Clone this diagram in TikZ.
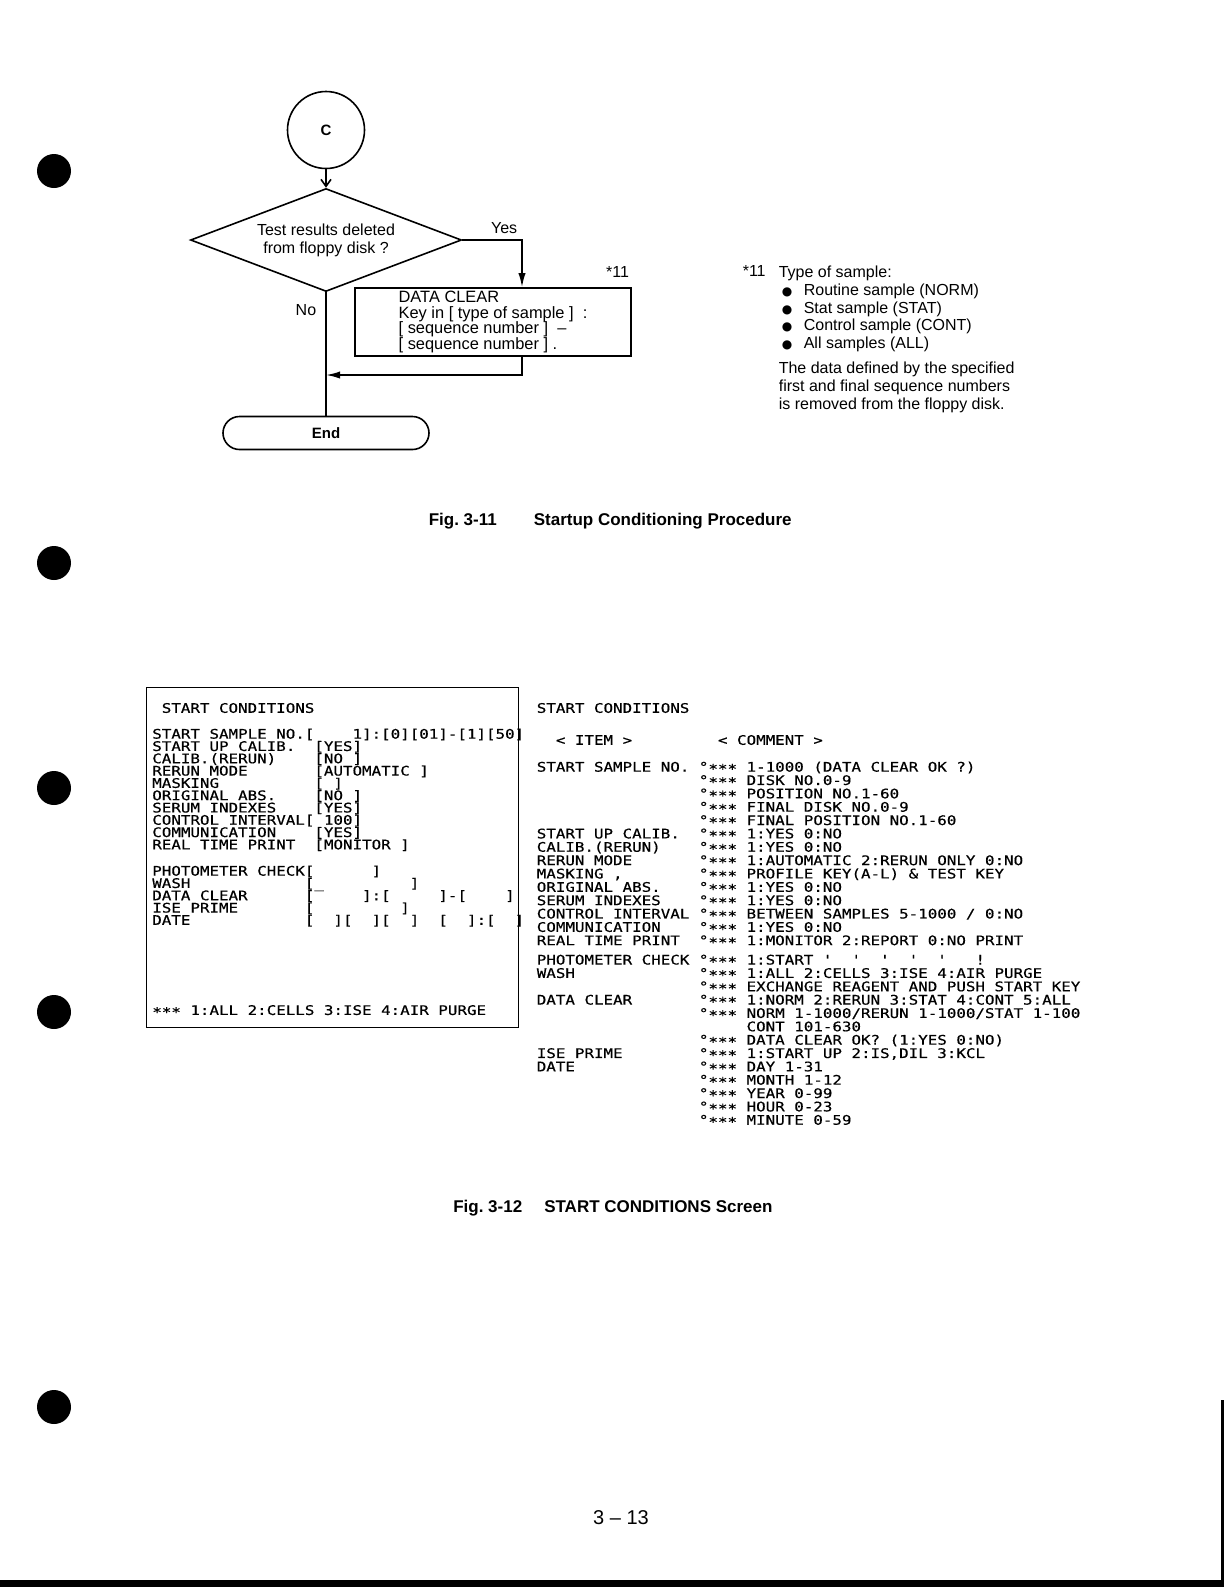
\documentclass[tikz,border=0pt]{standalone}
\usepackage{fontspec}
\setmainfont{Liberation Sans}
\newfontfamily\scrfont[FakeStretch=1.2,FakeBold=0.5]{DejaVu Sans Mono}
\newfontfamily\dotfont{DejaVu Sans}
\usetikzlibrary{positioning}
\usetikzlibrary{calc}
\usetikzlibrary{shapes.geometric}
\usetikzlibrary{arrows.meta}
% n blank columns of the screen font
\newcommand{\sk}[1]{\hspace*{#1\fontcharwd\font`\0}}
\newcommand{\stars}{\raisebox{-1pt}{***}}
\newcommand{\bul}{\hspace*{1.5pt}\makebox[11pt][l]{\dotfont\fontsize{6}{6}\selectfont ●}}
\newcommand{\scrleft}{\scrfont\fontsize{6.6}{6.15}\selectfont\lineskiplimit-10pt\relax}
\newcommand{\scrright}{\scrfont\fontsize{6.6}{6.675}\selectfont\lineskiplimit-10pt\relax}

\begin{document}
\begin{tikzpicture}[x=0.5pt, y=-0.5pt, line width=0.8pt,
    txt/.style={inner sep=0pt, font=\fontsize{8}{8.9}\selectfont},
    scr/.style={inner sep=0pt, align=left, font=\scrleft},
    figcap/.style={inner sep=0pt, anchor=west, font=\bfseries\fontsize{8.5}{10}\selectfont},
    flow/.style={-{Latex[length=7pt,width=3.6pt]}},
    hole/.style={fill=black}]
    \useasboundingbox (0,0) rectangle (1224,1587);

    % punch holes and scan edges
    \fill[hole] (54,171) circle[radius=8.5pt];
    \fill[hole] (54,563) circle[radius=8.5pt];
    \fill[hole] (54,788) circle[radius=8.5pt];
    \fill[hole] (54,1012) circle[radius=8.5pt];
    \fill[hole] (54,1407) circle[radius=8.5pt];
    \fill (0,1580) rectangle (1224,1587);
    \fill (1221,1400) rectangle (1224,1580);

    % Fig. 3-11
    \node[draw, circle, minimum size=38.5pt, inner sep=0pt, font=\bfseries\fontsize{7.5}{8}\selectfont] (c) at (326,130) {C};
    \node[draw, diamond, aspect=2.63, minimum width=135.5pt, minimum height=51.5pt, inner sep=0pt, align=center, txt] (q) at (326,240) {Test results deleted\\from floppy disk ?};
    \node[draw, txt, font=\fontsize{8.2}{7.7}\selectfont, align=left, minimum width=138pt, minimum height=34pt] (clear) at (493,322) {DATA CLEAR\\Key in [ type of sample ]~~:\\{[} sequence number ]~~--\\{[} sequence number ] .};
    \node[draw, rounded corners=8.25pt, minimum width=103pt, minimum height=16.5pt, inner sep=0pt, font=\bfseries\fontsize{7.5}{8}\selectfont] (end) at (326,433) {End};

    \coordinate (yes) at (522,240);
    \coordinate (back) at (326,375);

    \draw[-{Straight Barb[length=3.5pt,width=5pt]}] (c) -- (q);
    \draw[flow] (q.east) -- (yes) -- (yes |- clear.north);
    \draw[flow] (yes |- clear.south) |- (back);
    \draw (q) -- (end);

    \node[txt, above left=3pt and 2pt of yes] (ylbl) {Yes};
    \node[txt, below left=5.5pt and 4.5pt of q.south] (nlbl) {No};
    \node[txt, above left=4.5pt and 1pt of clear.north east] (mark) {*11};

    \node[txt, anchor=west] (n11) at (742,271) {*11};
    \node[txt, anchor=north west, align=left] (note) at (778,265) {Type of sample:\\
        \bul Routine sample (NORM)\\
        \bul Stat sample (STAT)\\
        \bul Control sample (CONT)\\
        \bul All samples (ALL)\\[3.5pt]
        The data defined by the specified\\
        first and final sequence numbers\\
        is removed from the floppy disk.};

    \node[figcap] (cap1) at (428,521) {Fig.~3-11\hspace{18.5pt}Startup Conditioning Procedure};

    % Fig. 3-12, the screen
    \node[draw, line width=0.7pt, minimum width=186pt, minimum height=170pt, inner sep=0pt, anchor=north west] (screen) at (146,687) {};
    \node[scr, anchor=west] (stitle) at (161,708) {START CONDITIONS};
    \node[scr, anchor=north west] (sbody) at (151.5,727.8) {START SAMPLE NO.[\sk{4}1]:[0][01]-[1][50]\\
        START UP CALIB.\sk{2}[YES]\\
        CALIB.(RERUN)\sk{4}[NO ]\\
        RERUN MODE\sk{7}[AUTOMATIC ]\\
        MASKING\sk{10}[ ]\\
        ORIGINAL ABS.\sk{4}[NO ]\\
        SERUM INDEXES\sk{4}[YES]\\
        CONTROL INTERVAL[ 100]\\
        COMMUNICATION\sk{4}[YES]\\
        REAL TIME PRINT\sk{2}[MONITOR ]\\[7pt]
        PHOTOMETER CHECK[\sk{6}]\\
        WASH\sk{12}[\_\sk{9}]\\
        DATA CLEAR\sk{6}[\sk{5}]:[\sk{5}]-[\sk{4}]\\
        ISE PRIME\sk{7}[\sk{9}]\\
        DATE\sk{12}[\sk{2}][\sk{2}][\sk{2}]\sk{2}[\sk{2}]:[\sk{2}]};
    \node[scr, anchor=west] (sfoot) at (151.5,1011) {\stars{} 1:ALL 2:CELLS 3:ISE 4:AIR PURGE};

    % item / comment list
    \node[scr, anchor=west] (rtitle) at (536,708) {START CONDITIONS};
    \node[scr, anchor=west] (rhead) at (536,740) {\sk{2}< ITEM >\sk{9}< COMMENT >};
    \node[scr, anchor=north west, font=\scrright] (rbody) at (536,760.8) {START SAMPLE NO. °\stars{} 1-1000 (DATA CLEAR OK ?)\\
        \sk{17}°\stars{} DISK NO.0-9\\
        \sk{17}°\stars{} POSITION NO.1-60\\
        \sk{17}°\stars{} FINAL DISK NO.0-9\\
        \sk{17}°\stars{} FINAL POSITION NO.1-60\\
        START UP CALIB.\sk{2}°\stars{} 1:YES 0:NO\\
        CALIB.(RERUN)\sk{4}°\stars{} 1:YES 0:NO\\
        RERUN MODE\sk{7}°\stars{} 1:AUTOMATIC 2:RERUN ONLY 0:NO\\
        MASKING ,\sk{8}°\stars{} PROFILE KEY(A-L) \& TEST KEY\\
        ORIGINAL ABS.\sk{4}°\stars{} 1:YES 0:NO\\
        SERUM INDEXES\sk{4}°\stars{} 1:YES 0:NO\\
        CONTROL INTERVAL °\stars{} BETWEEN SAMPLES 5-1000 / 0:NO\\
        COMMUNICATION\sk{4}°\stars{} 1:YES 0:NO\\
        REAL TIME PRINT\sk{2}°\stars{} 1:MONITOR 2:REPORT 0:NO PRINT\\[3pt]
        PHOTOMETER CHECK °\stars{} 1:START\sk{1}'\sk{2}'\sk{2}'\sk{2}'\sk{2}'\sk{3}!\\
        WASH\sk{13}°\stars{} 1:ALL 2:CELLS 3:ISE 4:AIR PURGE\\
        \sk{17}°\stars{} EXCHANGE REAGENT AND PUSH START KEY\\
        DATA CLEAR\sk{7}°\stars{} 1:NORM 2:RERUN 3:STAT 4:CONT 5:ALL\\
        \sk{17}°\stars{} NORM 1-1000/RERUN 1-1000/STAT 1-100\\
        \sk{22}CONT 101-630\\
        \sk{17}°\stars{} DATA CLEAR OK? (1:YES 0:NO)\\
        ISE PRIME\sk{8}°\stars{} 1:START UP 2:IS,DIL 3:KCL\\
        DATE\sk{13}°\stars{} DAY 1-31\\
        \sk{17}°\stars{} MONTH 1-12\\
        \sk{17}°\stars{} YEAR 0-99\\
        \sk{17}°\stars{} HOUR 0-23\\
        \sk{17}°\stars{} MINUTE 0-59};

    \node[figcap] (cap2) at (452.5,1208) {Fig.~3-12\hspace{11pt}START CONDITIONS Screen};

    \node[inner sep=0pt, font=\fontsize{10}{12}\selectfont] (page) at (621,1518) {3 -- 13};
\end{tikzpicture}
\end{document}
